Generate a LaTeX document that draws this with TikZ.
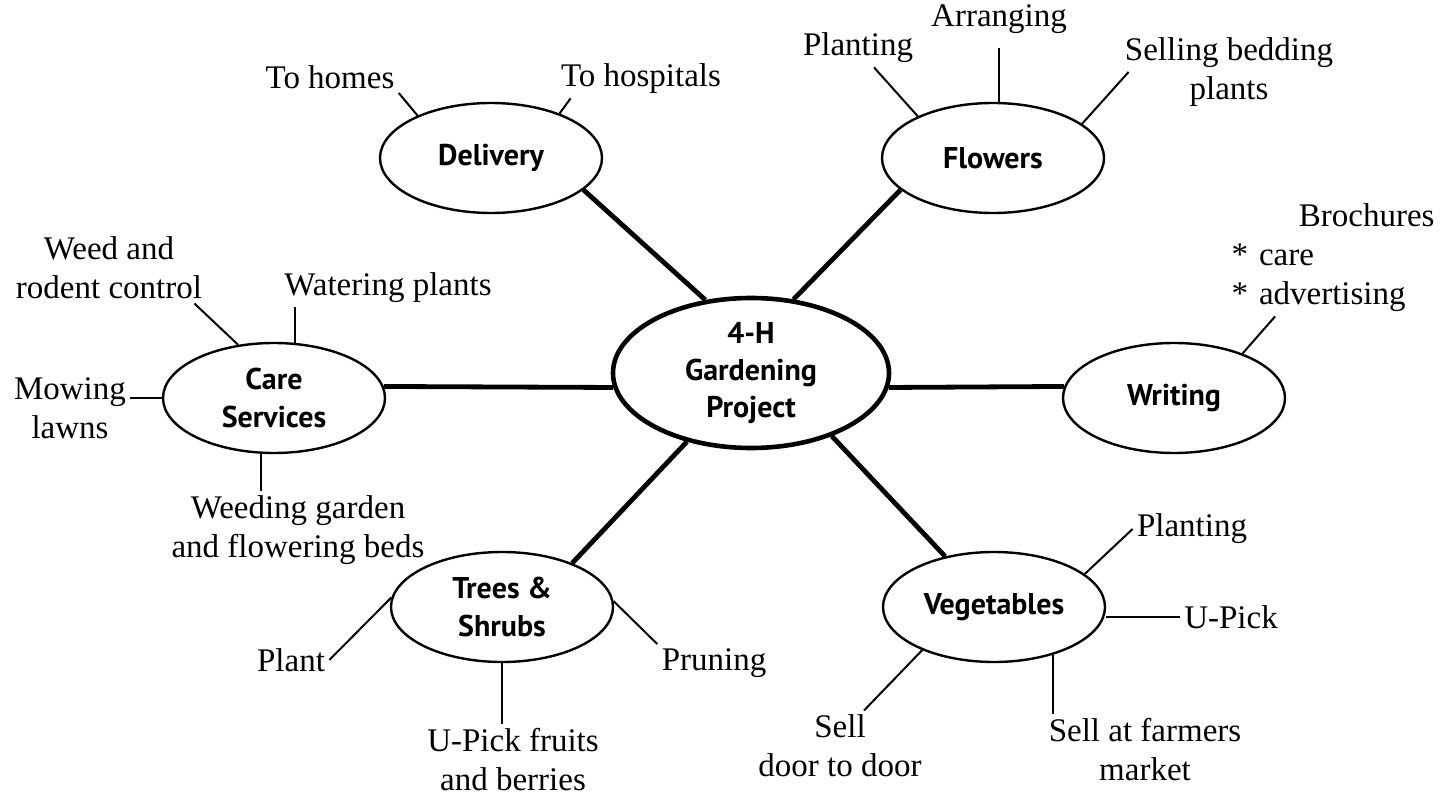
\documentclass[tikz,border=0pt]{standalone}
\usepackage{fontspec}
\setmainfont{Liberation Serif}
\newfontfamily\topicfont{PT Sans}
\usetikzlibrary{shapes.geometric}
\tikzset{
  hubnode/.style={ellipse, draw=black, line width=2.3pt, minimum width=138pt, minimum height=75pt, inner sep=1pt, align=center, font=\topicfont\bfseries\fontsize{15}{18.5}\selectfont},
  topic/.style={ellipse, draw=black, line width=1.2pt, minimum width=111pt, minimum height=55pt, inner sep=1pt, align=center, font=\topicfont\bfseries\fontsize{15}{19}\selectfont},
  leaf/.style={inner sep=2pt, align=center, font=\fontsize{16.5}{19.5}\selectfont},
  spoke/.style={line width=2.4pt, draw=black},
  twig/.style={line width=1pt, draw=black}
}

\begin{document}
\begin{tikzpicture}[x=0.5pt, y=-0.5pt]
  \useasboundingbox (0,0) rectangle (1455,796);
  \node (hub) [hubnode] at (751,373) {4-H\\Gardening\\Project};
  \node (delivery) [topic] at (491,158) {Delivery};
  \node (flowers) [topic] at (993,158) {Flowers};
  \node (care) [topic] at (274,398) {Care\\Services};
  \node (writing) [topic] at (1174,398) {Writing};
  \node (trees) [topic] at (502,607) {Trees \&\\Shrubs};
  \node (veg) [topic] at (994,607) {Vegetables};

  \node (tohomes) [leaf] at (330,77) {To homes};
  \node (tohosp) [leaf] at (641,79) {To hospitals};
  \node (fplant) [leaf] at (858,48) {Planting};
  \node (arrange) [leaf] at (999,19) {Arranging};
  \node (sellbed) [leaf] at (1229,72) {Selling bedding\\plants};
  \node (weedrod) [leaf] at (109,268) {Weed and\\rodent control};
  \node (water) [leaf] at (388,288) {Watering plants};
  \node (mow) [leaf] at (70,408) {Mowing\\lawns};
  \node (weeding) [leaf] at (298,530) {Weeding garden\\and flowering beds};
  \node (broch) [leaf, align=left, text width=101.5pt] at (1333,258) {\hfill Brochures\\{*} care\\{*} advertising};
  \node (plant) [leaf] at (291,660) {Plant};
  \node (prune) [leaf] at (714,663) {Pruning};
  \node (upick) [leaf] at (513,760) {U-Pick fruits\\and berries};
  \node (vplant) [leaf] at (1192,529) {Planting};
  \node (vupick) [leaf] at (1231,617) {U-Pick};
  \node (selldoor) [leaf] at (840,746) {Sell\\door to door};
  \node (sellfarm) [leaf] at (1145,750) {Sell at farmers\\market};

  \draw [spoke] (delivery.341) -- (hub.122);
  \draw [spoke] (flowers.199) -- (hub.60);
  \draw [spoke] (care.6) -- (hub.186);
  \draw [spoke] (writing.174) -- (hub.354);
  \draw [spoke] (trees.32) -- (hub.227);
  \draw [spoke] (veg.134) -- (hub.322);

  \draw [twig] (delivery.150) -- (tohomes.south east);
  \draw [twig] (delivery.33) -- ([xshift=7pt]tohosp.south west);
  \draw [twig] (flowers.151) -- ([xshift=8pt]fplant.south);
  \draw [twig, shorten <=5pt] (arrange.south) -- (arrange.south |- flowers.north);
  \draw [twig] (flowers.21) -- ([xshift=4pt]sellbed.west);
  \draw [twig] (care.124) -- ([xshift=-6pt]weedrod.south east);
  \draw [twig] (care.69) -- (care.69 |- water.south);
  \draw [twig] (care.west) -- (care.west -| mow.east);
  \draw [twig] (care.257) -- (care.257 |- weeding.north);
  \draw [twig] (writing.33) -- ([xshift=24pt]broch.south west);
  \draw [twig] (trees.175) -- (plant.east);
  \draw [twig] (trees.3) -- (prune.north west);
  \draw [twig] (trees.south) -- (trees.south |- upick.north);
  \draw [twig] (veg.20) -- (vplant.west);
  \draw [twig] (vupick.west) -- (vupick.west -| veg.east);
  \draw [twig] (veg.211) -- ([xshift=12pt]selldoor.north);
  \draw [twig] (veg.321) -- (veg.321 |- sellfarm.north);
\end{tikzpicture}
\end{document}
